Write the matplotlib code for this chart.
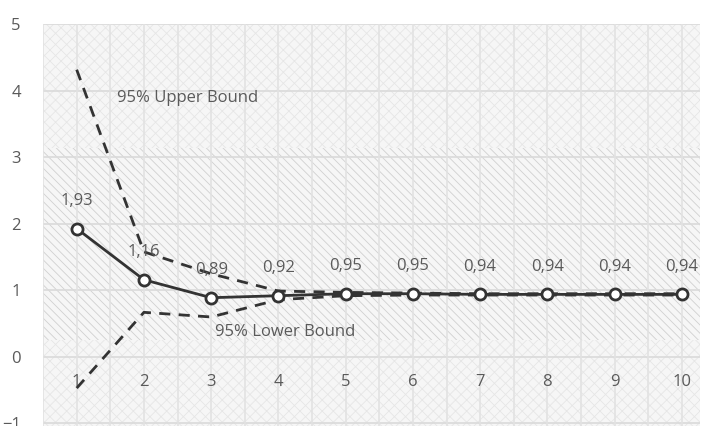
import matplotlib
matplotlib.use("Agg")
import matplotlib.pyplot as plt

# values
steps = [1, 2, 3, 4, 5, 6, 7, 8, 9, 10]
estimate = [1.93, 1.16, 0.89, 0.92, 0.95, 0.95, 0.94, 0.94, 0.94, 0.94]
estimate_labels = ["1,93", "1,16", "0,89", "0,92", "0,95", "0,95", "0,94", "0,94", "0,94", "0,94"]
upper_bound = [4.32, 1.58, 1.25, 0.99, 0.97, 0.96, 0.95, 0.95, 0.95, 0.95]
lower_bound = [-0.47, 0.67, 0.60, 0.86, 0.92, 0.93, 0.93, 0.93, 0.93, 0.93]
y_ticks = [-1, 0, 1, 2, 3, 4, 5]

plt.rcParams['font.family'] = ['Open Sans', 'DejaVu Sans']
plt.rcParams['hatch.linewidth'] = 0.6

text_grey = "#5a5a5a"
ink = "#333333"

fig = plt.figure(figsize=(7.06, 4.26), dpi=100)
ax = fig.add_axes([0.061, 0.0, 0.9305, 0.9425])
ax.set_facecolor("#f5f5f5")

# shaded bands of the background
ax.axhspan(0.26, 3.14, facecolor="#f6f6f6", edgecolor="#d0d0d0", hatch="\\\\\\\\", lw=0, zorder=0)
ax.axhspan(3.14, 5.2, facecolor="#f6f6f6", edgecolor="#e6e6e6", hatch="xxx", lw=0, zorder=0)
ax.axhspan(-1.2, 0.26, facecolor="#f6f6f6", edgecolor="#e6e6e6", hatch="xxx", lw=0, zorder=0)

# grid: horizontal at integers, vertical at categories and between them
for y in y_ticks:
    ax.axhline(y, color="#dadada", lw=1.2, zorder=1)
for x in range(1, 22):
    ax.axvline(x / 2, color="#e2e2e2", lw=1.2, zorder=1)

ax.plot(steps, upper_bound, color=ink, lw=2, ls=(0, (4, 3)), zorder=3)
ax.plot(steps, lower_bound, color=ink, lw=2, ls=(0, (4, 3)), zorder=3)
ax.plot(steps, estimate, color=ink, lw=2, marker="o", ms=8,
        mfc="white", mec=ink, mew=2, zorder=4)

for x, y, lab in zip(steps, estimate, estimate_labels):
    ax.annotate(lab, (x, y), xytext=(0, 20), textcoords="offset points",
                ha="center", va="center", fontsize=12, color=text_grey, zorder=5)

ax.text(1.6, 3.9, "95% Upper Bound", fontsize=12, color=text_grey, va="center")
ax.text(3.05, 0.37, "95% Lower Bound", fontsize=12, color=text_grey, va="center")

ax.set_xlim(0.5, 10.27)
ax.set_ylim(-1.04, 5)
ax.set_yticks(y_ticks)
ax.set_xticks(steps)
ax.set_xticklabels([str(s) for s in steps])

for s in ax.spines.values():
    s.set_visible(False)
ax.spines['bottom'].set_position(('data', 0))
ax.tick_params(axis="both", length=0, labelsize=12, labelcolor=text_grey)
ax.tick_params(axis="x", pad=12)
ax.tick_params(axis="y", pad=16)

fig.savefig("out.png", dpi=100)
